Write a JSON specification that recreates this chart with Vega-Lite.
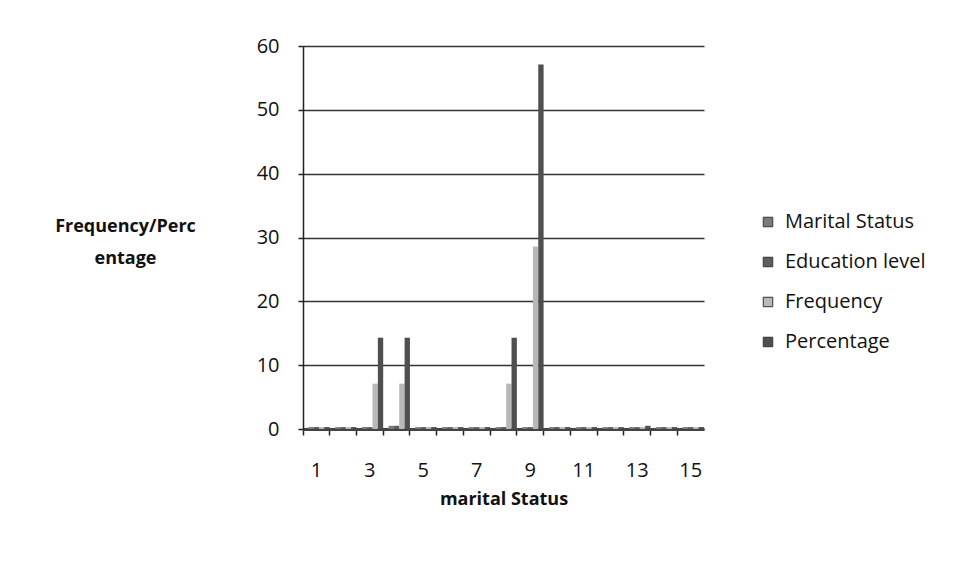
{
  "$schema": "https://vega.github.io/schema/vega-lite/v6.json",
  "autosize": {"type": "none"},
  "width": 401,
  "height": 383,
  "padding": {"left": 303, "top": 46, "right": 262, "bottom": 147},
  "background": "white",
  "config": {
    "font": "Open Sans",
    "view": {"stroke": null},
    "axis": {"labelFont": "Open Sans", "titleFont": "Open Sans"},
    "legend": {"labelFont": "Open Sans"}
  },
  "data": {
    "values": [
      {"cat": 1, "series": "Marital Status", "value": 0.3}, {"cat": 1, "series": "Education level", "value": 0.3}, {"cat": 1, "series": "Frequency", "value": 0.3}, {"cat": 1, "series": "Percentage", "value": 0.3},
      {"cat": 2, "series": "Marital Status", "value": 0.3}, {"cat": 2, "series": "Education level", "value": 0.3}, {"cat": 2, "series": "Frequency", "value": 0.3}, {"cat": 2, "series": "Percentage", "value": 0.3},
      {"cat": 3, "series": "Marital Status", "value": 0.3}, {"cat": 3, "series": "Education level", "value": 0.3}, {"cat": 3, "series": "Frequency", "value": 7.1}, {"cat": 3, "series": "Percentage", "value": 14.3},
      {"cat": 4, "series": "Marital Status", "value": 0.5}, {"cat": 4, "series": "Education level", "value": 0.5}, {"cat": 4, "series": "Frequency", "value": 7.1}, {"cat": 4, "series": "Percentage", "value": 14.3},
      {"cat": 5, "series": "Marital Status", "value": 0.3}, {"cat": 5, "series": "Education level", "value": 0.3}, {"cat": 5, "series": "Frequency", "value": 0.3}, {"cat": 5, "series": "Percentage", "value": 0.3},
      {"cat": 6, "series": "Marital Status", "value": 0.3}, {"cat": 6, "series": "Education level", "value": 0.3}, {"cat": 6, "series": "Frequency", "value": 0.3}, {"cat": 6, "series": "Percentage", "value": 0.3},
      {"cat": 7, "series": "Marital Status", "value": 0.3}, {"cat": 7, "series": "Education level", "value": 0.3}, {"cat": 7, "series": "Frequency", "value": 0.3}, {"cat": 7, "series": "Percentage", "value": 0.3},
      {"cat": 8, "series": "Marital Status", "value": 0.3}, {"cat": 8, "series": "Education level", "value": 0.3}, {"cat": 8, "series": "Frequency", "value": 7.1}, {"cat": 8, "series": "Percentage", "value": 14.3},
      {"cat": 9, "series": "Marital Status", "value": 0.3}, {"cat": 9, "series": "Education level", "value": 0.3}, {"cat": 9, "series": "Frequency", "value": 28.6}, {"cat": 9, "series": "Percentage", "value": 57.1},
      {"cat": 10, "series": "Marital Status", "value": 0.3}, {"cat": 10, "series": "Education level", "value": 0.3}, {"cat": 10, "series": "Frequency", "value": 0.3}, {"cat": 10, "series": "Percentage", "value": 0.3},
      {"cat": 11, "series": "Marital Status", "value": 0.3}, {"cat": 11, "series": "Education level", "value": 0.3}, {"cat": 11, "series": "Frequency", "value": 0.3}, {"cat": 11, "series": "Percentage", "value": 0.3},
      {"cat": 12, "series": "Marital Status", "value": 0.3}, {"cat": 12, "series": "Education level", "value": 0.3}, {"cat": 12, "series": "Frequency", "value": 0.3}, {"cat": 12, "series": "Percentage", "value": 0.3},
      {"cat": 13, "series": "Marital Status", "value": 0.3}, {"cat": 13, "series": "Education level", "value": 0.3}, {"cat": 13, "series": "Frequency", "value": 0.3}, {"cat": 13, "series": "Percentage", "value": 0.5},
      {"cat": 14, "series": "Marital Status", "value": 0.3}, {"cat": 14, "series": "Education level", "value": 0.3}, {"cat": 14, "series": "Frequency", "value": 0.3}, {"cat": 14, "series": "Percentage", "value": 0.3},
      {"cat": 15, "series": "Marital Status", "value": 0.3}, {"cat": 15, "series": "Education level", "value": 0.3}, {"cat": 15, "series": "Frequency", "value": 0.3}, {"cat": 15, "series": "Percentage", "value": 0.3}
    ]
  },
  "mark": {"type": "bar"},
  "encoding": {
    "x": {
      "field": "cat",
      "type": "ordinal",
      "scale": {"paddingInner": 0, "paddingOuter": 0},
      "axis": {
        "title": "marital Status",
        "titleFontSize": 18,
        "titleFontWeight": "bold",
        "titleColor": "#111",
        "titleY": 70,
        "titleBaseline": "middle",
        "labelAngle": 0,
        "labelFontSize": 20,
        "labelColor": "#111",
        "labelPadding": 25,
        "labelExpr": "datum.value % 2 == 1 ? datum.label : ''",
        "bandPosition": 0,
        "tickColor": "#222",
        "tickSize": 6,
        "tickWidth": 1.5,
        "domainColor": "#444",
        "domainWidth": 3,
        "grid": false
      }
    },
    "xOffset": {
      "field": "series",
      "type": "nominal",
      "scale": {"domain": ["_pad", "Marital Status", "Education level", "Frequency", "Percentage"], "paddingInner": 0, "paddingOuter": 0}
    },
    "y": {
      "field": "value",
      "type": "quantitative",
      "scale": {"domain": [0, 60], "nice": false},
      "axis": {
        "values": [0, 10, 20, 30, 40, 50, 60],
        "title": ["Frequency/Perc", "entage"],
        "titleAngle": 0,
        "titleAlign": "center",
        "titleBaseline": "middle",
        "titleX": -178,
        "titleY": 180,
        "titleLineHeight": 32,
        "titleFontSize": 18,
        "titleFontWeight": "bold",
        "titleColor": "#111",
        "labelFontSize": 20,
        "labelColor": "#111",
        "labelPadding": 19,
        "tickColor": "#222",
        "tickSize": 5,
        "tickWidth": 1.5,
        "domainColor": "#222",
        "domainWidth": 1.5,
        "gridColor": "#333",
        "gridWidth": 1.5
      }
    },
    "color": {
      "field": "series",
      "type": "nominal",
      "scale": {
        "domain": ["Marital Status", "Education level", "Frequency", "Percentage"],
        "range": ["#7a7a7a", "#5e5e5e", "#b8b8b8", "#4f4f4f"]
      },
      "legend": {
        "title": null,
        "orient": "none",
        "legendX": 455,
        "legendY": 166,
        "symbolType": "square",
        "symbolSize": 90,
        "symbolStrokeColor": "#333",
        "symbolStrokeWidth": 1,
        "labelFontSize": 20,
        "labelColor": "#111",
        "rowPadding": 20,
        "labelOffset": 7
      }
    }
  }
}
